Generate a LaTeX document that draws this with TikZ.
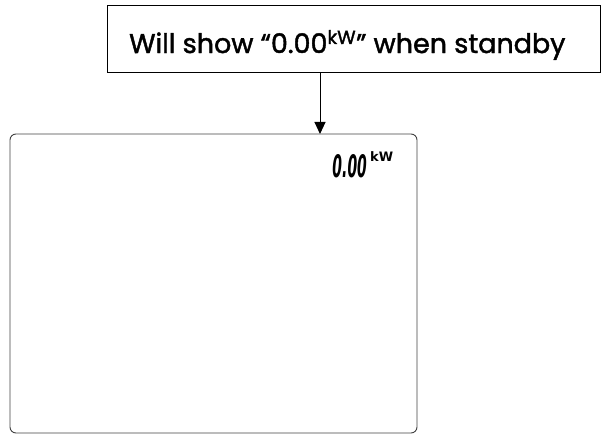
\documentclass[tikz,border=0pt]{standalone}
\usepackage{fontspec}
\setmainfont{Poppins}
\newfontfamily\notefont{Poppins}[FakeBold=1.6]
\newfontfamily\lcdfont{DejaVu Sans}
\usetikzlibrary{arrows.meta}

\begin{document}
\begin{tikzpicture}[x=1pt,y=-1pt]
        \tikzset{notebox/.style = {draw, line width=0.9pt, minimum width=493pt, minimum height=67pt, inner sep=0pt}}
        \tikzset{panel/.style = {draw=black!75, line width=0.9pt, rounded corners=6pt}}
        \tikzset{readout/.style = {inner sep=0pt, anchor=base east, xscale=0.45, transform shape}}
        \tikzset{edged/.style = {-{Triangle[length=12pt,width=11pt]}, line width=1pt}}
        \useasboundingbox (0,0) rectangle (601,435);
        % boxes
        \node[notebox, anchor=north west] (note) at (107,5) {};
        \node[anchor=west, inner sep=0pt, font=\notefont\fontsize{27}{30}\selectfont] (notetext) at (129,45)
            {Will show “0.00\textsuperscript{kW}” when standby};
        \draw[panel] (10,134) rectangle (417,433);
        \coordinate (paneltop) at (320,134);
        % display
        \node[readout, font=\lcdfont\bfseries\itshape\fontsize{31}{31}\selectfont] (digits) at (367,178) {0.00};
        \node[anchor=north west, inner sep=0pt, font=\lcdfont\bfseries\fontsize{13}{13}\selectfont] (unit) at (370,151) {kW};
        % arrow
        \draw[edged] (note.south -| paneltop) to (paneltop);
\end{tikzpicture}
\end{document}
